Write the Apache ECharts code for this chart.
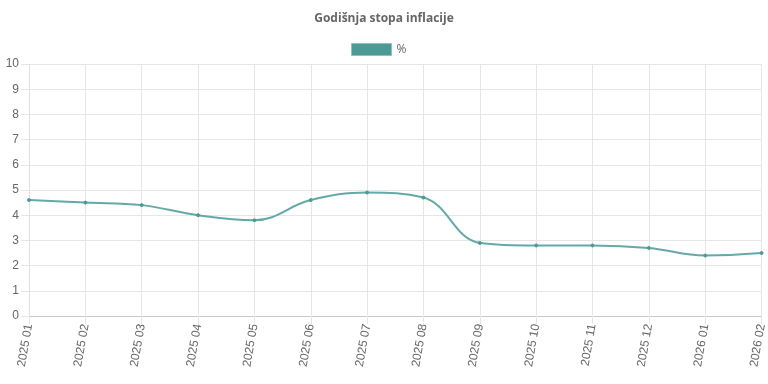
<!DOCTYPE html>
<html><head><meta charset="utf-8">
<script src="https://cdn.jsdelivr.net/npm/echarts@6/dist/echarts.min.js"></script>
<style>html,body{margin:0;padding:0;background:#fff}#c{width:768px;height:384px}</style>
</head><body><div id="c"></div>
<script>
const categories = ["2025 01","2025 02","2025 03","2025 04","2025 05","2025 06","2025 07","2025 08","2025 09","2025 10","2025 11","2025 12","2026 01","2026 02"];
const inflation = [4.6,4.5,4.4,4.0,3.8,4.6,4.9,4.7,2.9,2.8,2.8,2.7,2.4,2.5];
const yTicks = {min:0,max:10,interval:1};
const titleText = "Godišnja stopa inflacije";
const seriesName = "%";

const chart = echarts.init(document.getElementById('c'), null, {renderer:'canvas'});
chart.setOption({
  animation:false,
  title:{text:titleText,left:'center',top:8,textStyle:{fontFamily:'"Open Sans", sans-serif',fontSize:12,fontWeight:'bold',color:'#666'}},
  legend:{top:38,left:346,itemWidth:40,itemHeight:12,itemGap:8,
    textStyle:{fontFamily:'"Open Sans", sans-serif',fontSize:12,color:'#666'},
    data:[{name:seriesName,icon:'rect',itemStyle:{color:'#4d9995',borderColor:'#8cc3c0',borderWidth:1}}]},
  grid:{left:29,right:2,top:64,bottom:68,containLabel:false},
  xAxis:{type:'category',data:categories,boundaryGap:false,
    axisLine:{show:true,lineStyle:{color:'#c8c8c8'}},
    axisTick:{show:true,length:8,lineStyle:{color:'#e6e6e6'}},
    splitLine:{show:true,lineStyle:{color:'#e6e6e6'}},
    axisLabel:{rotate:80,interval:0,margin:8,color:'#666',fontSize:12,fontFamily:'"Liberation Sans", Arial, sans-serif'}},
  yAxis:{type:'value',min:yTicks.min,max:yTicks.max,interval:yTicks.interval,
    axisLine:{show:true,lineStyle:{color:'#e0e0e0'}},
    axisTick:{show:true,length:8,lineStyle:{color:'#e6e6e6'}},
    splitLine:{show:true,lineStyle:{color:'#e6e6e6'}},
    axisLabel:{margin:10,color:'#666',fontSize:12,fontFamily:'"Liberation Sans", Arial, sans-serif'}},
  series:[{name:seriesName,type:'line',data:inflation,smooth:0.4,
    symbol:'circle',symbolSize:3,
    lineStyle:{color:'#63aaa7',width:2},
    itemStyle:{color:'#4d9995',borderColor:'#4d9995'}}]
});
</script></body></html>
